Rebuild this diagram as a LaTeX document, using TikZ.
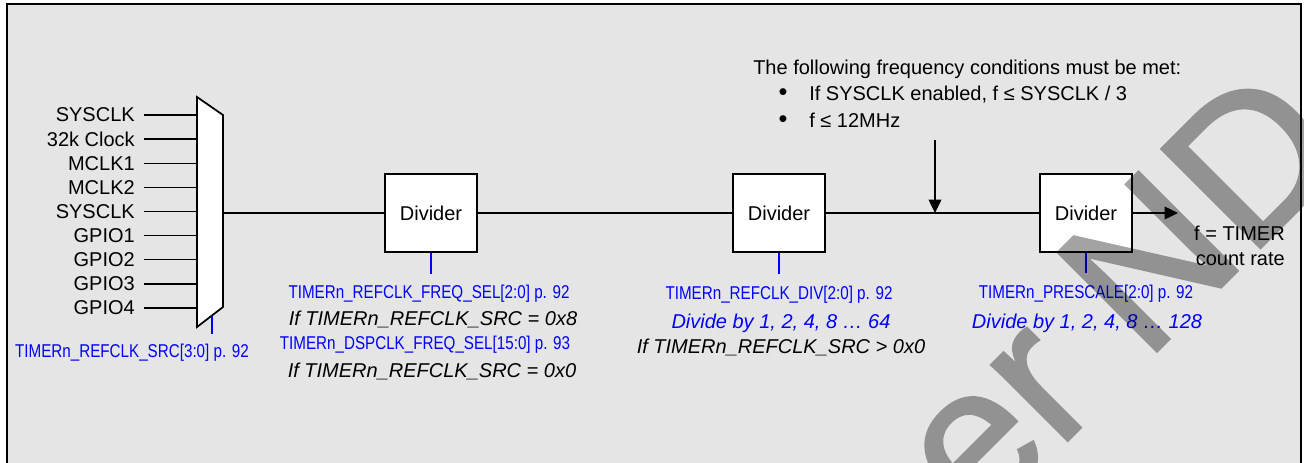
\documentclass[tikz,border=0pt]{standalone}
\usepackage{fontspec}
\setmainfont{Liberation Sans}
\newfontfamily\narrowfont[FakeStretch=0.82]{Liberation Sans}
\newfontfamily\markfont[FakeBold=1.5]{Liberation Sans}
\usepackage{tikz}
\usetikzlibrary{arrows.meta}
\definecolor{panelgray}{RGB}{229,229,229}
\definecolor{regblue}{RGB}{0,0,255}

\begin{document}
\begin{tikzpicture}[x=0.75pt,y=-0.75pt,
  every node/.style={font=\fontsize{15}{18}\selectfont},
  divider/.style={rectangle,draw,line width=1.3pt,fill=white,minimum width=69pt,
                  minimum height=59pt,inner sep=0pt},
  inlabel/.style={anchor=east,inner ysep=0pt,inner xsep=6.75pt},
  reglabel/.style={anchor=base,inner sep=0pt,text=regblue,
                   font=\narrowfont\fontsize{13.9}{16}\selectfont},
  condlabel/.style={anchor=base,inner sep=0pt,font=\itshape\fontsize{15}{18}\selectfont},
  divlabel/.style={condlabel,text=regblue},
  wire/.style={line width=1pt},
  selwire/.style={line width=1.3pt,regblue},
  arrow/.style={-{Triangle[length=10pt,width=9.5pt]},line width=1pt},
  watermark/.style={anchor=base west,rotate=45,inner sep=0pt,text=black,
                    font=\markfont\fontsize{152}{152}\selectfont},
]
\useasboundingbox (0,0) rectangle (1304,462);
\clip (0,0) rectangle (1304,462);

% Panel
\fill[white] (0,0) rectangle (1304,462);
\draw[line width=1.5pt,fill=panelgray] (7,4) rectangle (1301,480);

% Clock inputs and mux
\foreach \name [count=\i] in {SYSCLK,32k Clock,MCLK1,MCLK2,SYSCLK,GPIO1,GPIO2,GPIO3,GPIO4}{
  \pgfmathsetmacro\yy{115+24.125*(\i-1)}
  \node[inlabel] (in\i) at (144,\yy) {\name};
  \coordinate (m\i) at (197,\yy);
  \draw[wire] (in\i) -- (m\i);
}
\draw[line width=1.3pt,fill=white] (197,97) -- (223,115) -- (223,307) -- (197,327) -- cycle;
\coordinate (muxout) at (223,213);
\coordinate (muxsel) at (212,315.5);
\coordinate (muxselend) at (212,334);
\draw[selwire] (muxsel) -- (muxselend);
\node[reglabel] (srcreg) at (132,357.5) {TIMERn\_REFCLK\_SRC[3:0] p. 92};

% Dividers
\node[divider] (div1) at (431,213) {Divider};
\node[divider] (div2) at (779,213) {Divider};
\node[divider] (div3) at (1086,213) {Divider};

\coordinate (tap) at (935,213);
\coordinate (cond) at (935,140);
\coordinate (fout) at (1178,213);

\draw[wire] (muxout) -- (div1);
\draw[wire] (div1) -- (div2);
\draw[wire] (div2) -- (div3);
\draw[arrow] (div3) -- (fout);
\draw[arrow] (cond) -- (tap);

\node[anchor=east,inner sep=0pt,align=right,font=\fontsize{15}{18.75}\selectfont]
      (foutlbl) at (1285,245.5) {f = TIMER\\count rate};

% Frequency conditions
\node[anchor=west,inner sep=0pt,align=left,font=\fontsize{15}{20}\selectfont] (note)
      at (753,93.5)
      {The following frequency conditions must be met:\\
       \hspace*{19pt}\makebox[23pt][l]{\fontsize{19}{20}\selectfont\textbullet}If SYSCLK enabled, f ≤ SYSCLK / 3\\
       \hspace*{19pt}\makebox[23pt][l]{\fontsize{19}{20}\selectfont\textbullet}f ≤ 12MHz};

% Register selects
\coordinate (s1) at (431,274);
\coordinate (s2) at (779,274);
\coordinate (s3) at (1086,273);
\draw[selwire] (div1.south) -- (s1);
\draw[selwire] (div2.south) -- (s2);
\draw[selwire] (div3.south) -- (s3);

\node[reglabel]  (reg1)  at (429,298.5) {TIMERn\_REFCLK\_FREQ\_SEL[2:0] p. 92};
\node[condlabel] (cnd1a) at (433,325)   {If TIMERn\_REFCLK\_SRC = 0x8};
\node[reglabel]  (reg1b) at (425,349.5) {TIMERn\_DSPCLK\_FREQ\_SEL[15:0] p. 93};
\node[condlabel] (cnd1b) at (432,377)   {If TIMERn\_REFCLK\_SRC = 0x0};

\node[reglabel]  (reg2)  at (779,299.5) {TIMERn\_REFCLK\_DIV[2:0] p. 92};
\node[divlabel]  (rng2)  at (781,328.5) {Divide by 1, 2, 4, 8 … 64};
\node[condlabel] (cnd2)  at (781,353.5) {If TIMERn\_REFCLK\_SRC > 0x0};

\node[reglabel]  (reg3)  at (1086,298.5) {TIMERn\_PRESCALE[2:0] p. 92};
\node[divlabel]  (rng3)  at (1087,328)   {Divide by 1, 2, 4, 8 … 128};

% Watermark
\begin{scope}[transparency group,opacity=0.36]
\node[watermark] (wm) at (978,530) {er ND};
\end{scope}

\end{tikzpicture}
\end{document}
